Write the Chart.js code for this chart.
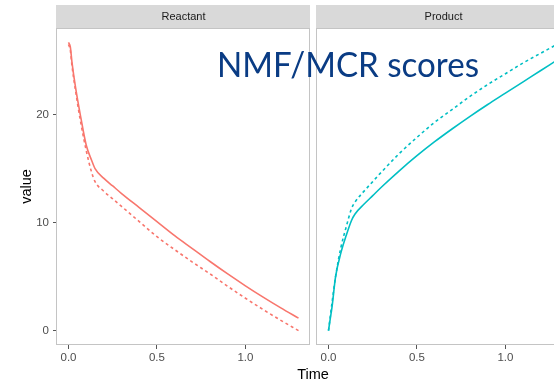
<!DOCTYPE html>
<html>
<head>
<meta charset="utf-8">
<script src="https://cdn.jsdelivr.net/npm/chart.js@4.4.1/dist/chart.umd.min.js"></script>
<style>
  html, body { margin: 0; padding: 0; background: #fff; }
  body { width: 554px; height: 381px; overflow: hidden; position: relative; font-family: "Liberation Sans", Arial, sans-serif; }
  canvas { position: absolute; top: 0; }
  #reactant { left: 0; }
  #product { left: 315px; }
  #timeLabel { position: absolute; left: 313px; top: 367px; transform: translateX(-50%); font-size: 14.5px; line-height: 14.5px; color: #000; white-space: nowrap; }
  #heading { position: absolute; left: 217px; top: 47px; font-family: Lato, "Open Sans", sans-serif; font-size: 34.7px; line-height: 1; color: #0A3C84; white-space: nowrap; transform-origin: 0 0; }
</style>
</head>
<body>
<canvas id="reactant" width="312" height="381"></canvas>
<canvas id="product" width="260" height="381"></canvas>
<div id="timeLabel">Time</div>
<div id="heading"><span id="headingText">NMF/MCR scores</span></div>
<script>
// sample times shared by both facets
const time = [0, 0.01, 0.02, 0.04, 0.07, 0.1, 0.13, 0.15, 0.2, 0.25, 0.3, 0.4, 0.5, 0.6, 0.7, 0.8, 0.9, 1.0, 1.1, 1.2, 1.3];

// Reactant facet: solid and dashed score curves
const reactantSolid = [26.7, 26.3, 24.8, 22.5, 19.7, 17.2, 15.8, 15.0, 14.1, 13.4, 12.7, 11.4, 10.1, 8.8, 7.6, 6.4, 5.25, 4.15, 3.1, 2.1, 1.15];
const reactantDashed = [26.5, 26.0, 24.5, 22.2, 19.2, 16.7, 14.7, 13.8, 12.9, 12.2, 11.5, 10.1, 8.7, 7.5, 6.35, 5.25, 4.1, 3.0, 1.95, 0.95, 0.0];

// Product facet
const productSolid = [0, 1.1, 2.2, 5.0, 7.2, 8.8, 10.2, 10.8, 11.7, 12.5, 13.3, 14.8, 16.2, 17.5, 18.7, 19.85, 20.95, 22.0, 23.05, 24.1, 25.15];
const productDashed = [0, 1.3, 2.6, 5.0, 7.7, 9.6, 11.3, 11.9, 12.9, 13.8, 14.7, 16.4, 17.9, 19.3, 20.5, 21.7, 22.8, 23.8, 24.8, 25.7, 26.6];

const xTicks = [0, 0.5, 1.0];
const yTicks = [0, 10, 20];

const facetNames = ['Reactant', 'Product'];

Chart.defaults.font.family = '"Liberation Sans", Arial, sans-serif';

const toPoints = (ys) => ys.map((y, i) => ({ x: time[i], y: y }));

// grey strip behind the facet title and a light frame round the panel
const facetFrame = {
  id: 'facetFrame',
  beforeDraw(chart) {
    const t = chart.titleBlock;
    const ctx = chart.ctx;
    ctx.save();
    ctx.fillStyle = '#D9D9D9';
    ctx.fillRect(t.left - 1, t.top, t.width + 1, t.height);
    ctx.restore();
  },
  afterDatasetsDraw(chart) {
    const a = chart.chartArea;
    const ctx = chart.ctx;
    ctx.save();
    ctx.strokeStyle = '#C4C4C4';
    ctx.lineWidth = 1;
    ctx.strokeRect(Math.round(a.left) - 0.5, Math.round(a.top) + 0.5,
                   Math.round(a.right - a.left), Math.round(a.bottom - a.top) - 1);
    ctx.restore();
  }
};

function makeFacet(canvasId, name, solid, dashed, color, showY, pad) {
  return new Chart(document.getElementById(canvasId), {
    type: 'line',
    plugins: [facetFrame],
    data: {
      datasets: [
        { data: toPoints(solid), borderColor: color, borderWidth: 1.6, pointRadius: 0, cubicInterpolationMode: 'monotone' },
        { data: toPoints(dashed), borderColor: color, borderWidth: 1.6, borderDash: [3, 3], pointRadius: 0, cubicInterpolationMode: 'monotone' }
      ]
    },
    options: {
      responsive: false,
      animation: false,
      layout: { padding: pad },
      plugins: {
        legend: { display: false },
        tooltip: { enabled: false },
        title: {
          display: true,
          text: name,
          fullSize: false,
          color: '#1A1A1A',
          font: { size: 11, weight: 'normal' },
          padding: { top: 5, bottom: 4.8 }
        }
      },
      scales: {
        x: {
          type: 'linear',
          min: -0.065,
          max: 1.365,
          afterBuildTicks: (s) => { s.ticks = xTicks.map(v => ({ value: v })); },
          afterFit: (s) => { s.height = 36; },
          grid: { drawOnChartArea: false, drawTicks: true, tickLength: 4, tickColor: '#555' },
          border: { display: false },
          ticks: { color: '#4D4D4D', font: { size: 11.5 }, padding: 2, maxRotation: 0, autoSkip: false,
                   callback: (v) => Number(v).toFixed(1) }
        },
        y: {
          type: 'linear',
          display: showY,
          min: -1.335,
          max: 28.035,
          afterBuildTicks: (s) => { s.ticks = yTicks.map(v => ({ value: v })); },
          afterFit: (s) => { s.width = showY ? 57 : 0; },
          grid: { drawOnChartArea: false, drawTicks: true, tickLength: 4, tickColor: '#555' },
          border: { display: false },
          ticks: { color: '#4D4D4D', font: { size: 11.5 }, padding: 4 },
          title: { display: true, text: 'value', color: '#000', font: { size: 14.5 }, padding: { top: 18, bottom: 0 } }
        }
      }
    }
  });
}

makeFacet('reactant', facetNames[0], reactantSolid, reactantDashed, '#F8766D', true, { top: 5, left: 0, right: 2, bottom: 0 });
makeFacet('product', facetNames[1], productSolid, productDashed, '#00BFC4', false, { top: 5, left: 2, right: 5, bottom: 0 });

// stretch the heading to its set width
const headingText = document.getElementById('headingText');
const w = headingText.getBoundingClientRect().width;
document.getElementById('heading').style.transform = 'scaleX(' + (262 / w) + ')';
</script>
</body>
</html>
